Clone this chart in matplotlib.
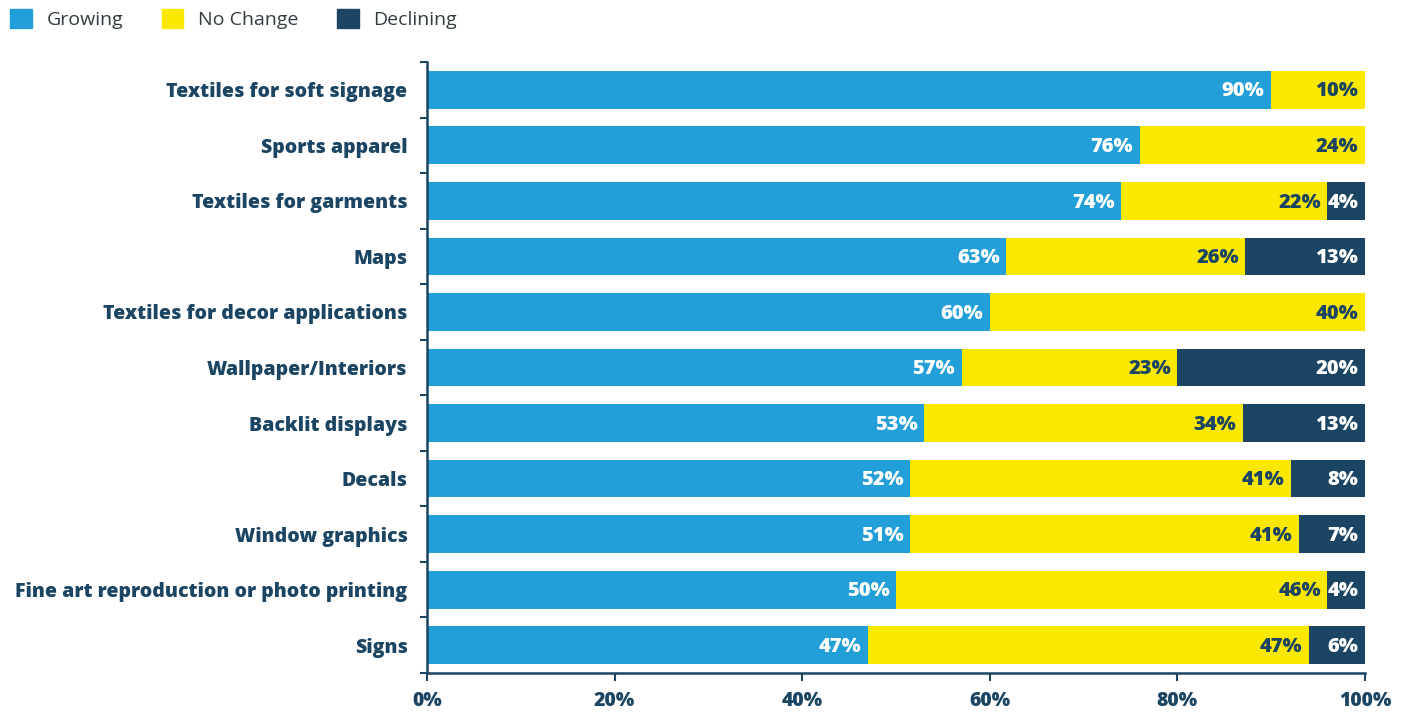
import numpy as np
import matplotlib.pyplot as plt
from matplotlib.patches import Patch

plt.rcParams['font.family'] = ['Open Sans', 'DejaVu Sans']

categories = ["Textiles for soft signage", "Sports apparel", "Textiles for garments",
              "Maps", "Textiles for decor applications", "Wallpaper/Interiors",
              "Backlit displays", "Decals", "Window graphics",
              "Fine art reproduction or photo printing", "Signs"]
growing = [90, 76, 74, 63, 60, 57, 53, 52, 51, 50, 47]
no_change = [10, 24, 22, 26, 40, 23, 34, 41, 41, 46, 47]
declining = [0, 0, 4, 13, 0, 20, 13, 8, 7, 4, 6]

series = ["Growing", "No Change", "Declining"]
colors = ["#229ED8", "#FBE800", "#1B4562"]
text_colors = ["white", "#1B4562", "white"]
navy = "#1B4562"

vals = np.array([growing, no_change, declining], dtype=float)
# rounded shares don't always sum to 100, so scale each row to the full width
shares = vals / vals.sum(axis=0) * 100

fig = plt.figure(figsize=(14.01, 7.15), dpi=100)
ax = fig.add_axes([427 / 1401, 1 - 673 / 715, 938 / 1401, 611 / 715])

y = np.arange(len(categories))
left = np.zeros(len(categories))
for i in range(3):
    ax.barh(y, shares[i], left=left, height=0.68, color=colors[i], linewidth=0)
    for j in range(len(categories)):
        if vals[i, j] > 0:
            ax.text(left[j] + shares[i, j] - 0.7, y[j] + 0.03, f"{vals[i, j]:.0f}%",
                    ha='right', va='center', fontsize=14.5, fontweight=800,
                    color=text_colors[i])
    left += shares[i]

ax.set_xlim(0, 100)
ax.set_ylim(len(categories) - 0.5, -0.5)
ax.set_yticks(y)
ax.set_yticklabels(categories, fontsize=14, fontweight=800, color=navy)
ax.set_yticks(np.arange(-0.5, len(categories)), minor=True)
ax.tick_params(axis='y', which='major', length=0, pad=14)
ax.tick_params(axis='y', which='minor', length=5, width=1.5, color=navy)

ax.set_xticks(np.arange(0, 101, 20))
ax.set_xticklabels([f"{t}%" for t in range(0, 101, 20)], fontsize=14,
                   fontweight=800, color=navy)
ax.tick_params(axis='x', length=6, width=1.5, color=navy, pad=7)

for s in ['top', 'right']:
    ax.spines[s].set_visible(False)
for s in ['left', 'bottom']:
    ax.spines[s].set_color(navy)
    ax.spines[s].set_linewidth(1.8)

handles = [Patch(color=c) for c in colors]
fig.legend(handles, series, loc='upper left', bbox_to_anchor=(-0.005, 1.012),
           ncol=3, frameon=False, fontsize=14, handlelength=1.1,
           handleheight=1.1, columnspacing=2.0, handletextpad=0.75,
           labelcolor="#333D40")

fig.savefig("out.png", dpi=100)
